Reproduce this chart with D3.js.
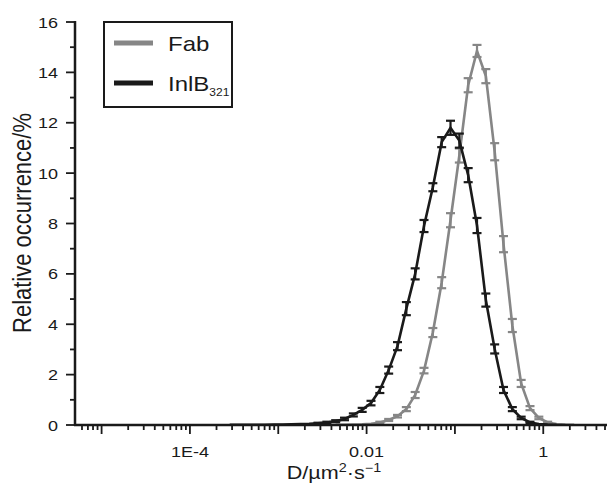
<!DOCTYPE html>
<html>
<head>
<meta charset="utf-8">
<script src="https://cdn.jsdelivr.net/npm/d3@7"></script>
<style>
  body { margin: 0; background: #fff; }
  text { font-family: "Liberation Sans", Arial, sans-serif; fill: #1a1a1a; }
</style>
</head>
<body>
<svg width="607" height="485"></svg>
<script>
var svg = d3.select("svg");

// log10(D) bin centres and values
var fabLogD = [-2.35, -2.25, -2.15, -2.05, -1.95, -1.85, -1.75, -1.65, -1.55, -1.45, -1.35, -1.25, -1.15, -1.05, -0.95, -0.85, -0.75, -0.65, -0.55, -0.45, -0.35, -0.25, -0.15, -0.05, 0.05, 0.15, 0.25, 0.35];
var fabValue = [0.01, 0.01, 0.02, 0.03, 0.05, 0.10, 0.20, 0.35, 0.63, 1.19, 2.16, 3.67, 5.65, 8.13, 10.7, 13.49, 14.85, 13.85, 10.85, 7.18, 3.95, 1.65, 0.67, 0.28, 0.10, 0.04, 0.02, 0.01];
var fabError = [0, 0, 0, 0, 0, 0.03, 0.04, 0.05, 0.08, 0.12, 0.11, 0.18, 0.22, 0.28, 0.28, 0.28, 0.24, 0.28, 0.34, 0.32, 0.26, 0.14, 0.08, 0.05, 0.03, 0, 0, 0];

var inlbLogD = [-3.55, -3.45, -3.35, -3.25, -3.15, -3.05, -2.95, -2.85, -2.75, -2.65, -2.55, -2.45, -2.35, -2.25, -2.15, -2.05, -1.95, -1.85, -1.75, -1.65, -1.55, -1.45, -1.35, -1.25, -1.15, -1.05, -0.95, -0.85, -0.75, -0.65, -0.55, -0.45, -0.35, -0.25, -0.15, -0.05, 0.05, 0.15];
var inlbValue = [0.01, 0.01, 0.01, 0.01, 0.01, 0.02, 0.02, 0.03, 0.04, 0.05, 0.07, 0.10, 0.15, 0.24, 0.40, 0.60, 0.87, 1.39, 2.18, 3.13, 4.62, 6.00, 7.90, 9.44, 11.23, 11.80, 11.29, 9.92, 7.92, 4.96, 3.02, 1.39, 0.63, 0.28, 0.10, 0.04, 0.02, 0.01];
var inlbError = [0, 0, 0, 0, 0, 0, 0, 0, 0, 0, 0.02, 0.03, 0.04, 0.05, 0.06, 0.08, 0.09, 0.12, 0.14, 0.16, 0.26, 0.22, 0.24, 0.16, 0.2, 0.28, 0.28, 0.28, 0.3, 0.26, 0.18, 0.12, 0.08, 0.05, 0.03, 0, 0, 0];

var xTickValues = [1e-4, 1e-2, 1];
var xTickLabels = ["1E-4", "0.01", "1"];
var yTickValues = [0, 2, 4, 6, 8, 10, 12, 14, 16];

var series = [
    { name: "Fab", logD: fabLogD, value: fabValue, error: fabError, color: "#868686" },
    { name: "InlB", sub: "321", logD: inlbLogD, value: inlbValue, error: inlbError, color: "#1a1a1a" }
];

var x = d3.scaleLog().domain([5e-6, 5]).range([75, 605]);
var y = d3.scaleLinear().domain([0, 16]).range([425, 22]);

// text in the original is a bit wider than it is tall
var stretch = 1.2;
function addText(parent, tx, ty, size, anchor) {
    return parent.append("text")
        .attr("transform", `translate(${tx},${ty}) scale(${stretch},1)`)
        .attr("text-anchor", anchor)
        .style("font-size", size + "px");
}

// curves
var line = d3.line()
    .x(d => x(Math.pow(10, d.ld)))
    .y(d => y(d.v));

series.forEach(s => {
    var pts = s.logD.map((ld, i) => ({ ld: ld, v: s.value[i], e: s.error[i] }));
    var g = svg.append("g");
    g.append("path")
        .datum(pts)
        .attr("d", line)
        .attr("fill", "none")
        .attr("stroke", s.color)
        .attr("stroke-width", 2.6);

    var bars = g.selectAll(".err")
        .data(pts.filter(d => d.e > 0))
        .enter().append("g");
    bars.append("line")
        .attr("x1", d => x(Math.pow(10, d.ld)))
        .attr("x2", d => x(Math.pow(10, d.ld)))
        .attr("y1", d => y(d.v - d.e))
        .attr("y2", d => y(d.v + d.e))
        .attr("stroke", s.color)
        .attr("stroke-width", 2.2);
    [-1, 1].forEach(sign => {
        bars.append("line")
            .attr("x1", d => x(Math.pow(10, d.ld)) - 4.5)
            .attr("x2", d => x(Math.pow(10, d.ld)) + 4.5)
            .attr("y1", d => y(d.v + sign * d.e))
            .attr("y2", d => y(d.v + sign * d.e))
            .attr("stroke", s.color)
            .attr("stroke-width", 2.2);
    });
});

// axes
var allX = [];
for (var p = -6; p <= 0; p++) {
    for (var m = 1; m < 10; m++) {
        var v = m * Math.pow(10, p);
        if (v >= 5e-6 && v <= 5) allX.push(v);
    }
}
var xAxis = svg.append("g").attr("transform", "translate(0,425)");
xAxis.append("line").attr("x1", 74).attr("x2", 607).attr("stroke", "#1a1a1a").attr("stroke-width", 2.5);
xAxis.selectAll(".tick")
    .data(allX)
    .enter().append("line")
    .attr("x1", d => x(d)).attr("x2", d => x(d))
    .attr("y1", 0)
    .attr("y2", d => Math.abs(Math.log10(d) - Math.round(Math.log10(d))) < 1e-6 ? 9 : 5)
    .attr("stroke", "#1a1a1a").attr("stroke-width", 1.8);
xTickValues.forEach((d, i) => {
    addText(xAxis, x(d), 32, 15, "middle").text(xTickLabels[i]);
});

var yAxis = svg.append("g").attr("transform", "translate(75,0)");
yAxis.append("line").attr("y1", 21).attr("y2", 426).attr("stroke", "#1a1a1a").attr("stroke-width", 2.5);
yAxis.selectAll(".tick")
    .data(d3.range(0, 17))
    .enter().append("line")
    .attr("y1", d => y(d)).attr("y2", d => y(d))
    .attr("x1", d => d % 2 === 0 ? -9 : -5)
    .attr("x2", 0)
    .attr("stroke", "#1a1a1a").attr("stroke-width", 1.8);
yTickValues.forEach(d => {
    addText(yAxis, -17, y(d) + 5.5, 15, "end").text(d);
});

// axis titles
svg.append("text")
    .attr("transform", "translate(31,223) rotate(-90) scale(1,1.2)")
    .attr("text-anchor", "middle")
    .style("font-size", "22px")
    .text("Relative occurrence/%");

var xt = addText(svg, 334, 479, 18, "middle");
xt.append("tspan").text("D/µm");
xt.append("tspan").attr("dy", -7).style("font-size", "12px").text("2");
xt.append("tspan").attr("dy", 7).text("·s");
xt.append("tspan").attr("dy", -7).style("font-size", "12px").text("−1");

// legend
var legend = svg.append("g");
legend.append("rect")
    .attr("x", 104).attr("y", 22).attr("width", 128).attr("height", 85)
    .attr("fill", "#fff").attr("stroke", "#1a1a1a").attr("stroke-width", 2);
series.forEach((s, i) => {
    var ly = 43 + i * 40;
    legend.append("line")
        .attr("x1", 114).attr("x2", 153).attr("y1", ly).attr("y2", ly)
        .attr("stroke", s.color).attr("stroke-width", 5);
    var t = addText(legend, 168, ly + 8, 20, "start");
    t.append("tspan").text(s.name);
    if (s.sub) t.append("tspan").attr("dy", 5).style("font-size", "10px").text(s.sub);
});
</script>
</body>
</html>
